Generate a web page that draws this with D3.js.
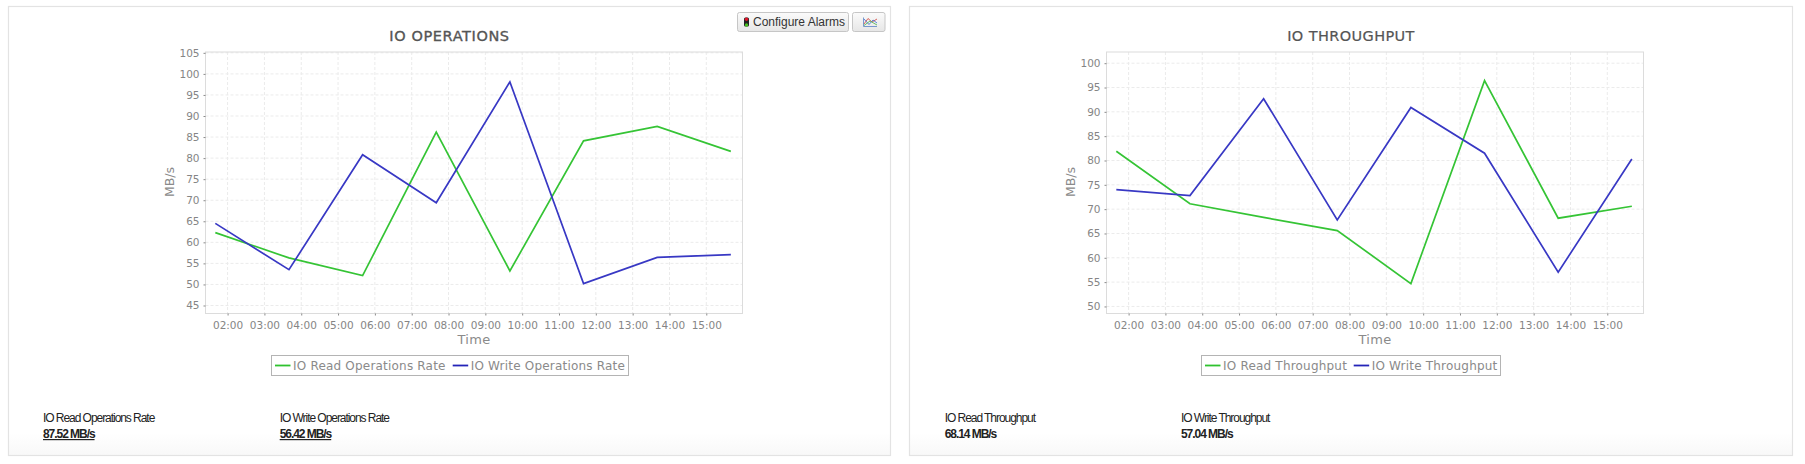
<!DOCTYPE html>
<html>
<head>
<meta charset="utf-8">
<title>IO charts</title>
<script src="https://cdn.jsdelivr.net/npm/d3@7"></script>
<style>
  html, body { margin: 0; padding: 0; background: #fff; }
  svg { display: block; }
  text { font-family: "DejaVu Sans", sans-serif; }
  .tick text { fill: #858585; font-size: 10.5px; font-family: "DejaVu Sans", sans-serif; }
  .tick line { stroke: #8a8a8a; }
  .axis-name { fill: #8a8a8a; font-size: 12.5px; }
  .legend-text { fill: #8a8a8a; font-size: 12px; letter-spacing: 0.2px; }
  .stat { font-family: "Liberation Sans", sans-serif; font-size: 12px; letter-spacing: -1.05px; fill: #222; }
  .stat-value { font-weight: bold; }
</style>
</head>
<body>
<div id="chart"></div>
<script>
const pointTimes = ["01:40", "03:40", "05:40", "07:40", "09:40", "11:40", "13:40", "15:40"];

const opsRead = [62.3, 56.3, 52.1, 86.2, 53.2, 84.1, 87.52, 81.6];
const opsWrite = [64.5, 53.5, 80.8, 69.4, 98.1, 50.2, 56.42, 57.1];
const opsTicks = [45, 50, 55, 60, 65, 70, 75, 80, 85, 90, 95, 100, 105];

const tputRead = [81.9, 71.1, 68.3, 65.6, 54.7, 96.4, 68.14, 70.6];
const tputWrite = [74.0, 72.8, 92.7, 67.8, 90.9, 81.5, 57.04, 80.3];
const tputTicks = [50, 55, 60, 65, 70, 75, 80, 85, 90, 95, 100];

const GREEN = "#35c435";
const BLUE = "#3838c4";

const parseTime = d3.utcParse("%H:%M");
const times = pointTimes.map(parseTime);

const svg = d3.select("#chart").append("svg")
  .attr("width", 1805)
  .attr("height", 464);

// faint grey fade at the foot of each panel
const defs = svg.append("defs");
const fade = defs.append("linearGradient").attr("id", "panel-fade")
  .attr("x1", 0).attr("x2", 0).attr("y1", 0).attr("y2", 1);
fade.append("stop").attr("offset", "0.95").attr("stop-color", "#fff");
fade.append("stop").attr("offset", "1").attr("stop-color", "#f8f8f8");
const btn = defs.append("linearGradient").attr("id", "btn-fade")
  .attr("x1", 0).attr("x2", 0).attr("y1", 0).attr("y2", 1);
btn.append("stop").attr("offset", "0").attr("stop-color", "#fbfbfb");
btn.append("stop").attr("offset", "1").attr("stop-color", "#e6e6e6");

function drawChart(cfg) {
  const panel = svg.append("g");

  panel.append("rect")
    .attr("x", cfg.panel[0]).attr("y", 6.5)
    .attr("width", cfg.panel[1] - cfg.panel[0]).attr("height", 449)
    .attr("fill", "url(#panel-fade)")
    .attr("stroke", "#e3e3e3").attr("stroke-width", 1.2);

  panel.append("text")
    .attr("x", cfg.titleX).attr("y", 41)
    .attr("text-anchor", "middle")
    .attr("fill", "#555")
    .attr("font-size", 14.5)
    .attr("stroke", "#555")
    .attr("stroke-width", cfg.titleStroke)
    .attr("letter-spacing", cfg.titleSpacing)
    .text(cfg.title);

  const x = d3.scaleUtc()
    .domain([parseTime("01:24"), parseTime("15:59")])
    .range([cfg.plot.left, cfg.plot.right]);
  const y = d3.scaleLinear()
    .domain(cfg.yDomain)
    .range([cfg.plot.bottom, cfg.plot.top]);

  const plot = panel.append("g");

  // grid
  const hours = x.ticks(d3.utcHour.every(1)).filter(d => d.getUTCHours() >= 2);
  plot.append("g").selectAll("line").data(hours).join("line")
    .attr("x1", d => x(d)).attr("x2", d => x(d))
    .attr("y1", cfg.plot.top).attr("y2", cfg.plot.bottom)
    .attr("stroke", "#ebebeb").attr("stroke-dasharray", "3,2");
  plot.append("g").selectAll("line").data(cfg.yTicks).join("line")
    .attr("x1", cfg.plot.left).attr("x2", cfg.plot.right)
    .attr("y1", d => y(d)).attr("y2", d => y(d))
    .attr("stroke", "#ebebeb").attr("stroke-dasharray", "3,2");

  plot.append("rect")
    .attr("x", cfg.plot.left).attr("y", cfg.plot.top)
    .attr("width", cfg.plot.right - cfg.plot.left)
    .attr("height", cfg.plot.bottom - cfg.plot.top)
    .attr("fill", "none").attr("stroke", "#dcdcdc");

  // axes
  const xAxis = plot.append("g")
    .attr("transform", "translate(0," + cfg.plot.bottom + ")")
    .call(d3.axisBottom(x).tickValues(hours).tickFormat(d3.utcFormat("%H:%M")).tickSize(2).tickSizeOuter(0).tickPadding(6));
  xAxis.select(".domain").remove();

  const yAxis = plot.append("g")
    .attr("transform", "translate(" + cfg.plot.left + ",0)")
    .call(d3.axisLeft(y).tickValues(cfg.yTicks).tickSize(2).tickSizeOuter(0).tickPadding(4));
  yAxis.select(".domain").remove();

  plot.append("text").attr("class", "axis-name")
    .attr("x", (cfg.plot.left + cfg.plot.right) / 2).attr("y", 344)
    .attr("text-anchor", "middle")
    .style("font-size", "13px")
    .attr("letter-spacing", 0.3)
    .text("Time");
  plot.append("text").attr("class", "axis-name")
    .attr("transform", "translate(" + (cfg.plot.left - 32) + ",182) rotate(-90)")
    .attr("text-anchor", "middle")
    .text("MB/s");

  // series
  const line = d3.line()
    .x((d, i) => x(times[i]))
    .y(d => y(d));
  plot.append("path").attr("d", line(cfg.read))
    .attr("fill", "none").attr("stroke", GREEN).attr("stroke-width", 1.7);
  plot.append("path").attr("d", line(cfg.write))
    .attr("fill", "none").attr("stroke", BLUE).attr("stroke-width", 1.7);

  // legend
  const legend = panel.append("g");
  legend.append("rect")
    .attr("x", cfg.legendBox[0]).attr("y", 355.5)
    .attr("width", cfg.legendBox[1] - cfg.legendBox[0]).attr("height", 20)
    .attr("fill", "#fff").attr("stroke", "#b4b4b4");
  [[cfg.names[0], "#2fc22f", cfg.legendItems[0]], [cfg.names[1], "#2424b8", cfg.legendItems[1]]].forEach(item => {
    legend.append("line")
      .attr("x1", item[2]).attr("x2", item[2] + 15.5)
      .attr("y1", 365.5).attr("y2", 365.5)
      .attr("stroke", item[1]).attr("stroke-width", 1.8);
    legend.append("text").attr("class", "legend-text")
      .attr("x", item[2] + 18).attr("y", 370)
      .text(item[0]);
  });

  // readouts under the chart
  cfg.stats.forEach((s, i) => {
    const sx = cfg.statX[i];
    panel.append("text").attr("class", "stat")
      .attr("x", sx).attr("y", 422).text(cfg.names[i]);
    panel.append("text").attr("class", "stat stat-value")
      .attr("x", sx).attr("y", 438)
      .attr("text-decoration", cfg.statUnderline ? "underline" : null)
      .text(s);
  });
}

drawChart({
  title: "IO OPERATIONS",
  titleX: 449.5,
  titleStroke: 0.35,
  titleSpacing: 0.6,
  panel: [8.5, 890.5],
  plot: { left: 205.5, right: 742.5, top: 52, bottom: 313.5 },
  yDomain: [43.1, 105.2],
  yTicks: opsTicks,
  read: opsRead,
  write: opsWrite,
  names: ["IO Read Operations Rate", "IO Write Operations Rate"],
  legendBox: [271.5, 628.5],
  legendItems: [275, 452.7],
  stats: ["87.52 MB/s", "56.42 MB/s"],
  statX: [43, 279.7],
  statUnderline: true
});

drawChart({
  title: "IO THROUGHPUT",
  titleX: 1351,
  titleStroke: 0.2,
  titleSpacing: 0.4,
  panel: [909.5, 1792.5],
  plot: { left: 1106.5, right: 1643.5, top: 52, bottom: 313.5 },
  yDomain: [48.55, 102.3],
  yTicks: tputTicks,
  read: tputRead,
  write: tputWrite,
  names: ["IO Read Throughput", "IO Write Throughput"],
  legendBox: [1201.5, 1500.5],
  legendItems: [1205, 1353.7],
  stats: ["68.14 MB/s", "57.04 MB/s"],
  statX: [944.7, 1181],
  statUnderline: false
});

// toolbar buttons, top right of the first panel
const toolbar = svg.append("g");
toolbar.append("rect")
  .attr("x", 737.5).attr("y", 12.5).attr("width", 111).attr("height", 19).attr("rx", 2)
  .attr("fill", "url(#btn-fade)").attr("stroke", "#c6c6c6");
toolbar.append("rect")
  .attr("x", 852.5).attr("y", 12.5).attr("width", 32.5).attr("height", 19).attr("rx", 2)
  .attr("fill", "url(#btn-fade)").attr("stroke", "#c6c6c6");
toolbar.append("rect")
  .attr("x", 744).attr("y", 17.5).attr("width", 5).attr("height", 9).attr("rx", 1.5).attr("fill", "#222");
toolbar.selectAll("circle.lamp").data([[19.2, "#e0142a"], [25, "#46c020"]]).join("circle")
  .attr("class", "lamp")
  .attr("cx", 746.5).attr("cy", d => d[0]).attr("r", 1.7).attr("fill", d => d[1]);
toolbar.append("text")
  .attr("x", 753).attr("y", 26)
  .style("font-family", "'Liberation Sans', sans-serif")
  .attr("font-size", 12).attr("fill", "#333")
  .text("Configure Alarms");
// small chart glyph
const glyph = toolbar.append("g").attr("fill", "none").attr("stroke-width", 0.9);
glyph.append("path").attr("d", "M863.5 17.5V26.5H877").attr("stroke", "#6a8fc8");
glyph.append("path").attr("d", "M864 24L868 18.5L872 22L877 19").attr("stroke", "#d8504a");
glyph.append("path").attr("d", "M864 19L869 24.5L873 20L877 23").attr("stroke", "#4a78d8");
glyph.append("path").attr("d", "M864 25.5L870 21L877 25").attr("stroke", "#58b858");
</script>
</body>
</html>
